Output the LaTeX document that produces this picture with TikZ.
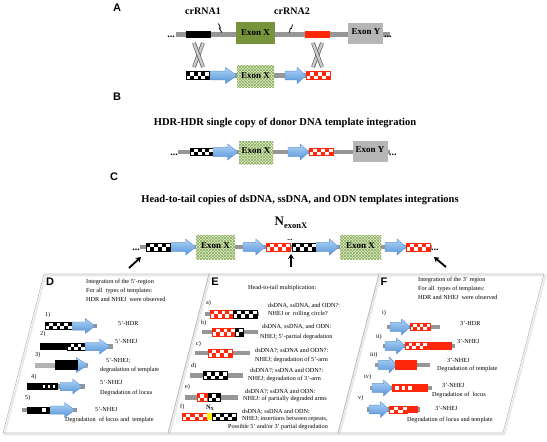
\documentclass[tikz,border=0pt]{standalone}
\usepackage{fontspec}
\setmainfont{Liberation Serif}
\setsansfont{Liberation Sans}
\usetikzlibrary{patterns,arrows.meta}

\definecolor{glc}{RGB}{150,150,150}
\definecolor{olivex}{RGB}{119,147,60}
\definecolor{exl}{RGB}{224,236,200}
\definecolor{exd}{RGB}{140,175,95}
\definecolor{exy}{RGB}{182,182,182}
\definecolor{dred}{RGB}{255,40,10}
\definecolor{abTop}{RGB}{175,212,245}
\definecolor{abBot}{RGB}{85,148,218}
\definecolor{abEdge}{RGB}{95,145,205}
\definecolor{pedgec}{RGB}{190,190,190}
\definecolor{pshadc}{RGB}{232,232,232}

\tikzset{
  lbl/.style={font=\sffamily\bfseries\fontsize{11}{11}\selectfont, inner sep=0},
  ttl/.style={font=\bfseries\fontsize{10.5}{12}\selectfont, inner sep=0},
  crr/.style={font=\bfseries\fontsize{10}{11}\selectfont, inner sep=0},
  extxt/.style={font=\bfseries\fontsize{9}{10}\selectfont, inner sep=0},
  dotsty/.style={font=\bfseries\fontsize{10}{10}\selectfont, inner sep=0},
  ptxt/.style={font=\fontsize{6.2}{7}\selectfont, inner sep=0, anchor=west},
  blackarr/.style={line width=1.8, -{Stealth[length=5pt,width=6pt]}},
  pedge/.style={draw=pedgec, line width=0.6},
  pshadow/.style={draw=pshadc, line width=1.6},
}

% gray DNA line: x1, x2, y
\newcommand{\GL}[3]{\fill[glc] (#1,#3-2.2) rectangle (#2,#3+2.2);}
% solid bar: x1, x2, y, h, colour
\newcommand{\BAR}[5]{\fill[#5] (#1,#3-#4/2) rectangle (#2,#3+#4/2);}
% checker: x1, x2, y, h, colour, ncols
\newcommand{\CK}[6]{%
  \pgfmathsetmacro\ckw{(#2-#1)/#6}%
  \fill[white] (#1,#3-#4/2) rectangle (#2,#3+#4/2);
  \foreach \ci in {1,...,#6}{%
    \pgfmathsetmacro\ckxa{#1+(\ci-1)*\ckw}%
    \pgfmathsetmacro\ckxb{#1+\ci*\ckw}%
    \ifodd\ci\relax
      \fill[#5] (\ckxa,#3-#4/2) rectangle (\ckxb,#3);
    \else
      \fill[#5] (\ckxa,#3) rectangle (\ckxb,#3+#4/2);
    \fi
  }
  \draw[#5, line width=0.9] (#1,#3-#4/2) rectangle (#2,#3+#4/2);}
% windowed bar: x1, x2, y, h, colour, n windows
\newcommand{\WIN}[6]{%
  \pgfmathsetmacro\wnw{(#2-#1)/(2*#6+1)}%
  \fill[#5] (#1,#3-#4/2) rectangle (#2,#3+#4/2);
  \foreach \wi in {1,...,#6}{%
    \pgfmathsetmacro\wxa{#1+(2*\wi-1)*\wnw}%
    \pgfmathsetmacro\wxb{#1+2*\wi*\wnw}%
    \fill[white] (\wxa,#3-#4/4) rectangle (\wxb,#3+#4/4);
  }}
% blue block arrow: x1, x2, y, h
\newcommand{\BA}[4]{%
  \pgfmathsetmacro\bahl{0.42*(#2-#1)}%
  \shadedraw[top color=abTop, bottom color=abBot, draw=abEdge, line width=0.4]
    (#1,#3-#4*0.27) -- (#2-\bahl,#3-#4*0.27) -- (#2-\bahl,#3-#4/2) -- (#2,#3)
    -- (#2-\bahl,#3+#4/2) -- (#2-\bahl,#3+#4*0.27) -- (#1,#3+#4*0.27) -- cycle;}
% template exon box: x1, x2, y1, y2
\newcommand{\EXON}[4]{%
  \fill[exl] (#1,#3) rectangle (#2,#4);
  \fill[pattern=north east lines, pattern color=exd] (#1,#3) rectangle (#2,#4);
  \fill[pattern=north west lines, pattern color=exd] (#1,#3) rectangle (#2,#4);}
% crossover: x centre, y1, y2
\newcommand{\XO}[3]{%
  \foreach \xs in {-1,1}{%
    \draw[line width=3.8, gray!70!black] (#1-4.5*\xs,#2) -- (#1+4.5*\xs,#3);
    \draw[line width=2.4, gray!40] (#1-4.5*\xs,#2+0.4) -- (#1+4.5*\xs,#3-0.4);
  }}

\begin{document}
\begin{tikzpicture}[x=1pt,y=-1pt]
\useasboundingbox (0,0) rectangle (547,442);
\fill[white] (0,0) rectangle (547,442);

% ================= A =================
\node[lbl] (labA) at (117,8) {A};
\node[crr] (cr1) at (203,11) {crRNA1};
\node[crr] (cr2) at (292,11) {crRNA2};
\GL{176}{390}{34.5}
\BAR{186}{211}{34.5}{7}{black}
\BAR{305}{330}{34.5}{7}{dred}
\fill[olivex] (236,22) rectangle (275,44);
\node[extxt] (exA) at (255.5,33) {Exon X};
\fill[exy] (348,23) rectangle (383,44);
\node[extxt] (eyA) at (366,32) {Exon Y};
\node[dotsty, anchor=base east] (dA1) at (175,37) {...};
\node[dotsty, anchor=base west] (dA2) at (384,37) {...};
% cut marks
\draw[line width=0.8] (218.5,23.5) -- (220.5,28) -- (219.3,28.3) -- (221.8,32.5);
\draw[line width=0.8] (292.5,24.5) -- (291.5,28.5) -- (290.3,28.3) -- (289.5,32.5);
% crossovers
\XO{198.5}{43}{67}
\XO{317.5}{43}{67}
% donor template
\GL{209}{306}{75.5}
\CK{186}{209}{75.5}{8}{black}{6}
\BA{210}{237}{75.5}{16}
\EXON{237}{274}{65}{87}
\node[extxt] (exT) at (255.5,76) {Exon X};
\BA{285}{306}{75.5}{16}
\CK{306}{330}{75.5}{8}{dred}{6}

% ================= B =================
\node[lbl] (labB) at (117,97) {B};
\node[ttl] (ttlB) at (285,123) {HDR-HDR single copy of donor DNA template integration};
\GL{178}{390}{152}
\node[dotsty, anchor=base east] (dB1) at (178,155) {...};
\CK{190}{213}{152}{7}{black}{6}
\BA{213}{238}{152}{16}
\EXON{239}{273}{141}{164}
\node[extxt] (exB) at (256,151) {Exon X};
\BA{288}{309}{152}{16}
\CK{309}{333}{152}{7}{dred}{6}
\fill[exy] (353,141) rectangle (388,162);
\node[extxt] (eyB) at (370,150) {Exon Y};
\node[dotsty, anchor=base west] (dB2) at (389,155) {...};

% ================= C =================
\node[lbl] (labC) at (114,177) {C};
\node[ttl] (ttlC) at (300,200) {Head-to-tail copies of dsDNA, ssDNA, and ODN templates integrations};
\node[font=\bfseries\fontsize{13}{13}\selectfont, inner sep=0] (nex) at (291,223) {N\raisebox{-3pt}{\fontsize{8.5}{9}\selectfont exonX}};
\node[font=\bfseries\fontsize{7}{7}\selectfont, inner sep=0, anchor=base] (ndots) at (290,240) {...};
\GL{140}{432}{247}
\node[dotsty, anchor=base east] (dC1) at (140,250) {...};
\CK{146}{170}{247}{8}{black}{6}
\BA{171}{196}{247}{16}
\EXON{196}{235}{235}{259}
\node[extxt] (exC1) at (215.5,246) {Exon X};
\BA{243}{265}{247}{16}
\CK{266}{290}{247}{8}{dred}{6}
\CK{292}{316}{247}{8}{black}{6}
\BA{316}{339}{247}{16}
\EXON{340}{381}{235}{259}
\node[extxt] (exC2) at (360.5,246) {Exon X};
\BA{385}{406}{247}{16}
\CK{406}{430}{247}{8}{dred}{6}
\node[dotsty, anchor=base west] (dC2) at (431,250) {...};
\coordinate (a1s) at (129,268); \coordinate (a1e) at (141,257);
\coordinate (a2s) at (291,267); \coordinate (a2e) at (291,254);
\coordinate (a3s) at (446,267); \coordinate (a3e) at (434,257);
\draw[blackarr] (a1s) -- (a1e);
\draw[blackarr] (a2s) -- (a2e);
\draw[blackarr] (a3s) -- (a3e);

% ================= panels =================
\foreach \px/\qx in {44/209, 209/379, 379/544}{
  \draw[pshadow] (\px+1.5,275.5) -- (\qx+1.5,275.5) -- (\qx-41+1.5,434.5) -- (\px-41+1.5,434.5) -- cycle;
}
\foreach \px/\qx in {44/209, 209/379, 379/544}{
  \draw[pedge] (\px,274) -- (\qx,274) -- (\qx-41,433) -- (\px-41,433) -- cycle;
}

% ================= D =================
\node[lbl] (labD) at (50,282) {D};
\node[ptxt] (dh1) at (86,282) {Integration of the 5'-region};
\node[ptxt] (dh2) at (86,290.5) {For all \ types of templates:};
\node[ptxt] (dh3) at (86,299) {HDR and NHEJ \ were observed};
% 1
\node[ptxt] (d1) at (45,315) {1)};
\GL{45}{97}{326}
\CK{45}{72}{326}{7}{black}{7}
\BA{72}{95}{326}{15}
\node[ptxt] (d1t) at (118,323) {5'-HDR};
% 2
\node[ptxt] (d2) at (40,334) {2)};
\GL{40}{113}{346.5}
\BAR{40}{67}{346.5}{7}{black}
\CK{67}{85}{346.5}{7}{black}{5}
\BA{85}{110}{346.5}{15}
\node[ptxt] (d2t) at (115,341) {5'-NHEJ};
% 3
\node[ptxt] (d3) at (35,355) {3)};
\fill[gray!60] (35,362.5) rectangle (88,367.5);
\BA{60}{88}{365}{15}
\BAR{55}{78}{365}{10}{black}
\node[ptxt] (d3t) at (106,361) {5'-NHEJ;};
\node[ptxt] (d3u) at (100,370) {degradation of template};
% 4
\node[ptxt] (d4) at (31,377) {4)};
\GL{27}{85}{386.5}
\BAR{27}{40}{386.5}{7}{black}
\WIN{40}{58}{386.5}{7}{black}{3}
\BA{60}{82}{386.5}{15}
\node[ptxt] (d4t) at (100,382) {5'-NHEJ};
\node[ptxt] (d4u) at (100,393) {Degradation of locus};
% 5
\node[ptxt] (d5) at (25,398) {5)};
\GL{22}{77}{410}
\BAR{27}{38}{410}{7}{black}
\WIN{38}{50}{410}{7}{black}{1}
\BA{50}{75}{410}{15}
\node[ptxt] (d5t) at (95,409) {5'-NHEJ};
\node[ptxt] (d5u) at (65,420) {Degradation \ of locus and \ template};

% ================= E =================
\node[lbl] (labE) at (215,282) {E};
\node[ptxt] (eh) at (248,288) {Head-to-tail multiplication:};
% a
\node[ptxt] (ea) at (206,303) {a)};
\GL{205}{259}{314}
\CK{210}{233}{314}{8}{dred}{6}
\CK{233}{257}{314}{8}{black}{6}
\node[ptxt] (ea1) at (268,306) {dsDNA, ssDNA, and ODN?:};
\node[ptxt] (ea2) at (268,314) {NHEJ or \ rolling circle?};
% b
\node[ptxt] (eb) at (201,323) {b)};
\GL{202}{258}{332}
\CK{212}{235}{332}{8}{dred}{6}
\CK{235}{243}{332}{8}{black}{2}
\node[ptxt] (eb1) at (262,327) {dsDNA, ssDNA, and ODN:};
\node[ptxt] (eb2) at (260,337) {NHEJ; 5'-partial degradation};
% c
\node[ptxt] (ec) at (196,344) {c)};
\GL{195}{250}{353}
\CK{208}{232}{353}{8}{dred}{6}
\node[ptxt] (ec1) at (255,351) {dsDNA?; ssDNA and ODN?:};
\node[ptxt] (ec2) at (255,360) {NHEJ; degradation of 5'-arm};
% d
\node[ptxt] (ed) at (191,366) {d)};
\GL{190}{243}{375.5}
\CK{203}{227}{375.5}{8}{black}{6}
\node[ptxt] (ed1) at (250,371) {dsDNA?; ssDNA and ODN?:};
\node[ptxt] (ed2) at (248,379) {NHEJ; degradation of 3'-arm};
% e
\node[ptxt] (ee) at (185,387) {e)};
\GL{185}{238}{397.5}
\CK{197}{207}{397.5}{8}{dred}{3}
\CK{208}{220}{397.5}{8}{black}{3}
\node[ptxt] (ee1) at (245,392) {dsDNA?; ssDNA and ODN:};
\node[ptxt] (ee2) at (243,399) {NHEJ: of partially degraded arms};
% f
\node[ptxt] (ef) at (180,407) {f)};
\node[font=\bfseries\fontsize{6.5}{7}\selectfont, inner sep=0] (nx) at (210,408) {N\raisebox{-1.5pt}{\fontsize{4.5}{5}\selectfont X}};
\CK{182}{207}{416.5}{7}{dred}{6}
\BAR{207}{212}{416.5}{7}{yellow}
\CK{212}{236}{416.5}{7}{black}{6}
\node[ptxt] (ef1) at (242,412) {dsDNA; ssDNA and ODN:};
\node[ptxt] (ef2) at (242,419) {NHEJ; insertions between repeats,};
\node[ptxt] (ef3) at (228,427) {Possible 5' and/or 3' partial degradation};

% ================= F =================
\node[lbl] (labF) at (384,282) {F};
\node[ptxt] (fh1) at (418,280) {Integration of the 3' region};
\node[ptxt] (fh2) at (418,288.5) {For all \ types of templates:};
\node[ptxt] (fh3) at (418,297) {HDR and NHEJ \ were observed};
% i
\node[ptxt] (f1) at (382,313) {i)};
\GL{387}{440}{327}
\BA{390}{410}{327}{16}
\CK{410}{430}{327}{7}{dred}{6}
\node[ptxt] (f1t) at (460,323) {3'-HDR};
% ii
\node[ptxt] (f2) at (376,337) {ii)};
\GL{383}{455}{346}
\BA{385}{405}{346}{16}
\CK{405}{427}{346}{7}{dred}{6}
\BAR{427}{452}{346}{8}{dred}
\node[ptxt] (f2t) at (457,341) {3'-NHEJ};
% iii
\node[ptxt] (f3) at (370,355) {iii)};
\GL{375}{430}{365}
\BA{378}{397}{365}{16}
\BAR{395}{417}{365}{10}{dred}
\node[ptxt] (f3t) at (447,360) {3'-NHEJ};
\node[ptxt] (f3u) at (437,369) {Degradation of template};
% iv
\node[ptxt] (f4) at (364,377) {iv)};
\GL{370}{432}{388}
\BA{372}{392}{388}{16}
\WIN{392}{415}{388}{8}{dred}{3}
\BAR{415}{428}{388}{8}{dred}
\node[ptxt] (f4t) at (442,385) {3'-NHEJ};
\node[ptxt] (f4u) at (432,395) {Degradation of \ locus};
% v
\node[ptxt] (f5) at (358,398) {v)};
\GL{367}{420}{409.5}
\BA{369}{389}{409.5}{16}
\CK{389}{407}{409.5}{7}{dred}{4}
\BAR{407}{418}{409.5}{7}{dred}
\node[ptxt] (f5t) at (435,408) {3'-NHEJ};
\node[ptxt] (f5u) at (407,420) {Degradation of locus and template};
\end{tikzpicture}
\end{document}
